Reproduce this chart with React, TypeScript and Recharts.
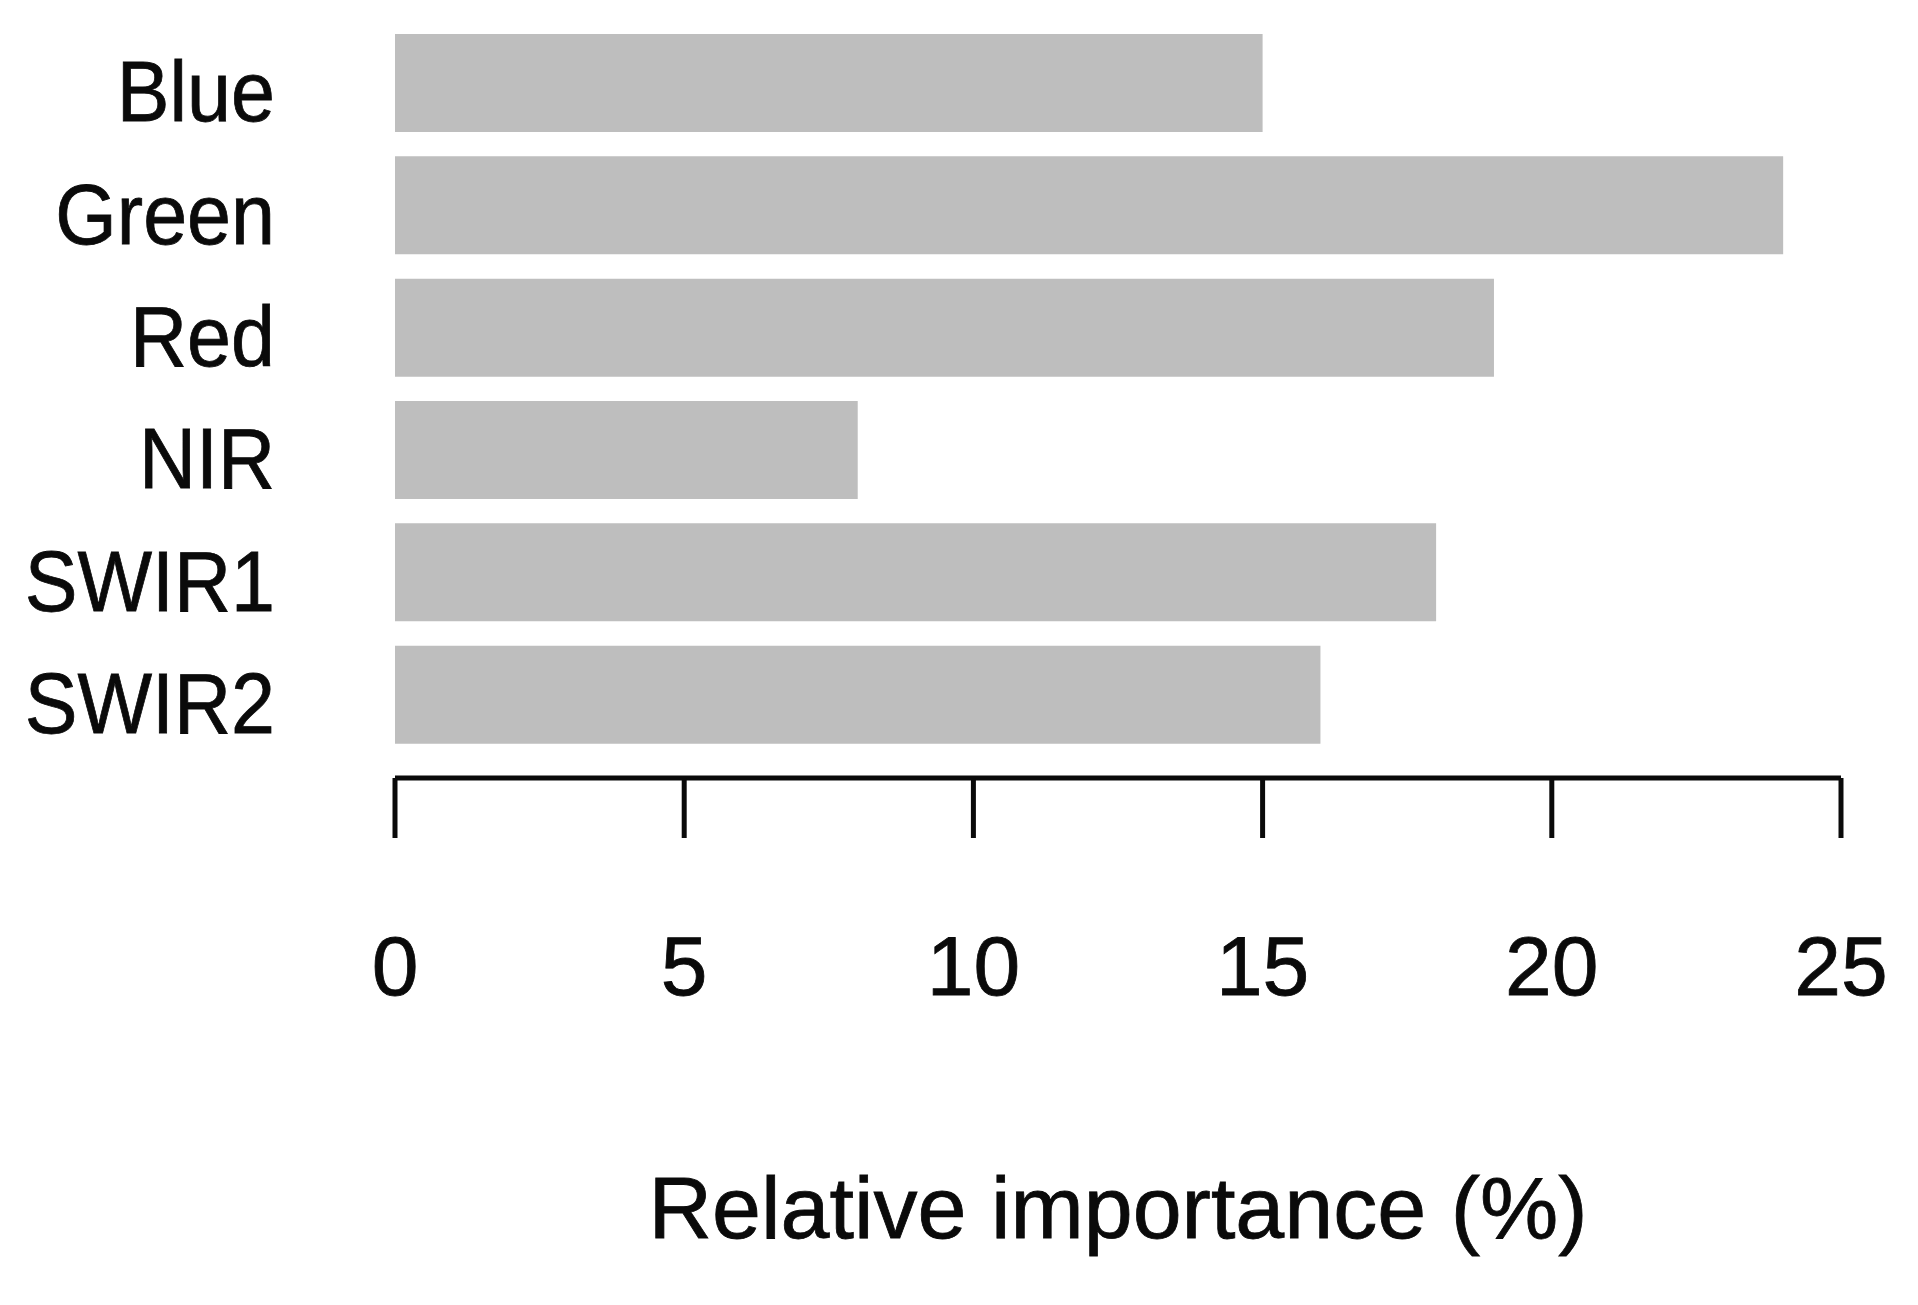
import React from "react";
import { BarChart, Bar, XAxis, YAxis, Label } from "recharts";

const bands = ["Blue", "Green", "Red", "NIR", "SWIR1", "SWIR2"];
const importance = [15, 24, 19, 8, 18, 16];
const xTicks = [0, 5, 10, 15, 20, 25];

const data = bands.map((band, i) => ({ band, value: importance[i] }));

const FONT = "'Liberation Sans', Arial, sans-serif";
const INK = "#0a0a0a";

// band names look a bit condensed in the original, squeeze them horizontally
function BandTick(props: any) {
  const { x, y, payload } = props;
  return (
    <text
      transform={`translate(${x},${y + 38}) scale(0.93,1)`}
      textAnchor="end"
      fontFamily={FONT}
      fontSize={85}
      fill={INK}
      stroke={INK}
      strokeWidth={0.8}
    >
      {payload.value}
    </text>
  );
}

export default function App() {
  return (
    <div style={{ background: "#fff", width: 1910, height: 1297 }}>
      <BarChart
        width={1910}
        height={1297}
        data={data}
        layout="vertical"
        margin={{ top: 14, right: 77, bottom: 0, left: 0 }}
      >
        <XAxis
          type="number"
          domain={[0, 25]}
          ticks={xTicks}
          interval={0}
          height={527}
          tickSize={60}
          tickMargin={97}
          tick={{ fontSize: 84, fontFamily: FONT, fill: INK, stroke: INK, strokeWidth: 0.8 }}
          axisLine={{ stroke: INK, strokeWidth: 5 }}
          tickLine={{ stroke: INK, strokeWidth: 5 }}
        >
          <Label
            value="Relative importance (%)"
            position="insideBottom"
            offset={67}
            fontSize={88}
            fontFamily={FONT}
            fill={INK}
            stroke={INK}
            strokeWidth={0.8}
          />
        </XAxis>
        <YAxis
          type="category"
          dataKey="band"
          width={387}
          axisLine={false}
          tickLine={false}
          tickSize={0}
          tickMargin={120}
          padding={{ top: 0, bottom: 22 }}
          tick={<BandTick />}
        />
        <Bar dataKey="value" fill="#bebebe" barSize={98} isAnimationActive={false} />
      </BarChart>
    </div>
  );
}
